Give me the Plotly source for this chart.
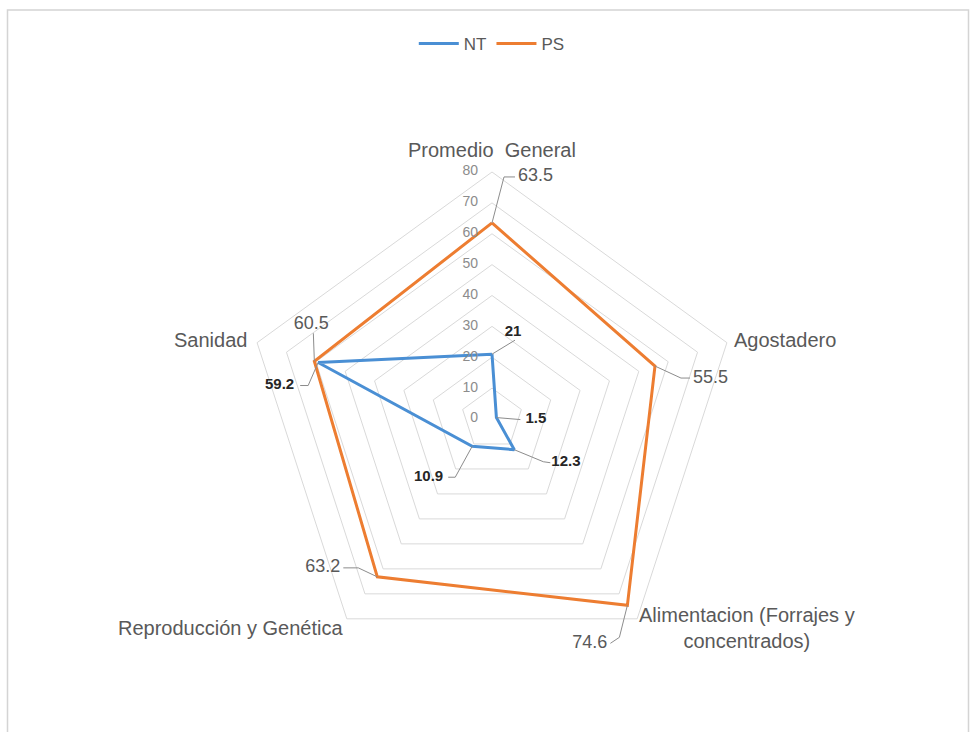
import math
import plotly.graph_objects as go

# ---------------- data ----------------
categories = ["Promedio  General", "Agostadero", "Alimentacion (Forrajes y concentrados)",
              "Reproducción y Genética", "Sanidad"]
category_labels = ["Promedio  General", "Agostadero", "Alimentacion (Forrajes y<br>concentrados)",
                   "Reproducción y Genética", "Sanidad"]
nt_values = [21, 1.5, 12.3, 10.9, 59.2]
ps_values = [63.5, 55.5, 74.6, 63.2, 60.5]
radial_ticks = [0, 10, 20, 30, 40, 50, 60, 70, 80]
RMAX = 80

# ---------------- style ----------------
NT_COLOR = "#4A8FD4"
PS_COLOR = "#ED7D31"
GRID = "#D9D9D9"
FONT = "Liberation Sans, Arial, sans-serif"
W, H = 970, 732
CX, CY = 492.0, 419.0
R_PX = 247.0
PX = R_PX / RMAX  # pixels per radial unit
OVER = 1.2        # overlay subplot extends beyond the main range

# leader offsets in pixels (dx right, dy down) from each data point,
# then the extra gap (dx, dy) from the leader end to the text anchor
ps_leaders = [
    ([(12, -46), (23, -46)], (3, 0), "middle right"),
    ([(26, 12), (35, 12)], (3, 0), "middle right"),
    ([(-8, 32), (-17, 38)], (-3, 0), "middle left"),
    ([(-19, -9), (-34, -9)], (-3, 0), "middle left"),
    ([(-1, -28)], (-2, 0), "top center"),
]
nt_leaders = [
    ([(23, -14)], (-2, 0), "top center"),
    ([(24, 2)], (5, 0), "middle right"),
    ([(29, 12), (36, 13)], (1, 0), "middle right"),
    ([(-17, 31), (-24, 31)], (-5, 0), "middle left"),
    ([(-10, 23), (-18, 23)], (-6, 0), "middle left"),
]
# category label centres: pixel offsets from each outer vertex
cat_offsets = [(0, -22), (58, -3), (110, 9), (-116, 9), (-47, -3)]


def offset_polar(v, idx, dx, dy):
    a = math.radians(idx * 360.0 / len(categories))
    x = v * math.sin(a) + dx / PX
    y = v * math.cos(a) - dy / PX
    return math.hypot(x, y), math.degrees(math.atan2(x, y)) % 360


fig = go.Figure()

# main radar lines
fig.add_trace(go.Scatterpolar(r=nt_values + nt_values[:1], theta=categories + categories[:1],
                              mode="lines", name="NT", line=dict(color=NT_COLOR, width=3),
                              subplot="polar"))
fig.add_trace(go.Scatterpolar(r=ps_values + ps_values[:1], theta=categories + categories[:1],
                              mode="lines", name="PS", line=dict(color=PS_COLOR, width=3),
                              subplot="polar"))

# radial tick labels (horizontal, left of the vertical axis)
tick_r, tick_t = [], []
for t in radial_ticks:
    r_, t_ = offset_polar(t, 0, -14, 0)
    tick_r.append(r_)
    tick_t.append(t_)
fig.add_trace(go.Scatterpolar(r=tick_r, theta=tick_t, mode="text", thetaunit="degrees",
                              text=[str(t) for t in radial_ticks], textposition="middle left",
                              textfont=dict(family=FONT, size=14, color="#8C8C8C"),
                              showlegend=False, hoverinfo="skip", cliponaxis=False,
                              subplot="polar2"))


def add_labels(values, leaders, fmt, font):
    for i, (v, (offs, gap, tpos)) in enumerate(zip(values, leaders)):
        rr = [v]
        tt = [i * 360.0 / len(categories)]
        for dx, dy in offs:
            r_, t_ = offset_polar(v, i, dx, dy)
            rr.append(r_)
            tt.append(t_)
        lx, ly = offs[-1]
        tr, tth = offset_polar(v, i, lx + gap[0], ly + gap[1])
        fig.add_trace(go.Scatterpolar(r=rr, theta=tt, mode="lines", thetaunit="degrees",
                                      line=dict(color="#8C8C8C", width=1), showlegend=False,
                                      hoverinfo="skip", cliponaxis=False, subplot="polar2"))
        fig.add_trace(go.Scatterpolar(r=[tr], theta=[tth], mode="text", thetaunit="degrees",
                                      text=[fmt(v)], textposition=tpos, textfont=font,
                                      showlegend=False, hoverinfo="skip", cliponaxis=False,
                                      subplot="polar2"))


def fmt_val(v):
    return "%g" % v


add_labels(ps_values, ps_leaders, fmt_val, dict(family=FONT, size=18, color="#595959"))
add_labels(nt_values, nt_leaders, lambda v: "<b>%s</b>" % fmt_val(v),
           dict(family=FONT, size=15, color="#262626"))

# category labels as centred annotations next to each outer vertex
annotations = []
for i, (lab, (dx, dy)) in enumerate(zip(category_labels, cat_offsets)):
    a = math.radians(i * 360.0 / len(categories))
    px = CX + R_PX * math.sin(a) + dx
    py = CY - R_PX * math.cos(a) + dy
    annotations.append(dict(text=lab, x=px / W, y=1 - py / H, xref="paper", yref="paper",
                            xanchor="center", yanchor="middle", align="center", showarrow=False,
                            font=dict(family=FONT, size=20, color="#595959")))


def dom(rad):
    return dict(x=[(CX - rad) / W, (CX + rad) / W],
                y=[1 - (CY + rad) / H, 1 - (CY - rad) / H])


fig.update_layout(
    width=W, height=H,
    margin=dict(l=0, r=0, t=0, b=0),
    paper_bgcolor="white",
    font=dict(family=FONT, color="#595959"),
    showlegend=True,
    legend=dict(orientation="h", x=0.507, xanchor="center", y=1 - 44 / H, yanchor="middle",
                font=dict(size=17, color="#595959"), itemwidth=40),
    annotations=annotations,
    polar=dict(
        domain=dom(R_PX),
        bgcolor="rgba(0,0,0,0)",
        gridshape="linear",
        radialaxis=dict(range=[0, RMAX], tickvals=radial_ticks, showline=False, gridcolor=GRID,
                        gridwidth=1, ticks="", angle=90, showticklabels=False),
        angularaxis=dict(type="category", rotation=90, direction="clockwise",
                         categoryarray=categories, showticklabels=False,
                         showgrid=False, showline=True, linecolor=GRID, linewidth=1, ticks=""),
    ),
    polar2=dict(
        domain=dom(R_PX * OVER),
        bgcolor="rgba(0,0,0,0)",
        radialaxis=dict(range=[0, RMAX * OVER], visible=False),
        angularaxis=dict(rotation=90, direction="clockwise", thetaunit="degrees", visible=False),
    ),
    shapes=[dict(type="rect", xref="paper", yref="paper", x0=7.5 / W, x1=968.5 / W,
                 y0=-0.05, y1=1 - 10 / H, line=dict(color="#D4D4D4", width=1.5))],
)

fig.write_html("out.html")
